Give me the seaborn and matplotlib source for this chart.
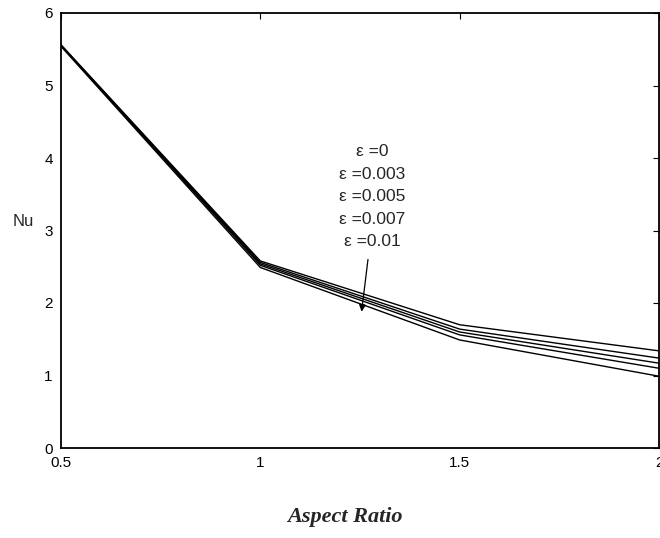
import matplotlib
matplotlib.use("Agg")
import matplotlib.pyplot as plt
import seaborn as sns
import pandas as pd

aspect_ratio = [0.5, 1.0, 1.5, 2.0]
eps_labels = ["0", "0.003", "0.005", "0.007", "0.01"]
nu_eps0 = [5.56, 2.58, 1.70, 1.34]
nu_eps003 = [5.56, 2.56, 1.64, 1.24]
nu_eps005 = [5.55, 2.54, 1.60, 1.17]
nu_eps007 = [5.55, 2.52, 1.56, 1.10]
nu_eps01 = [5.54, 2.49, 1.49, 0.99]
x_ticks = [0.5, 1, 1.5, 2]
x_ticklabels = ["0.5", "1", "1.5", "2"]
y_ticks = [0, 1, 2, 3, 4, 5, 6]

series = [nu_eps0, nu_eps003, nu_eps005, nu_eps007, nu_eps01]
rows = []
for lab, vals in zip(eps_labels, series):
    for x, v in zip(aspect_ratio, vals):
        rows.append({"AR": x, "Nu": v, "eps": lab})
df = pd.DataFrame(rows)

sns.set_theme(style="white")
plt.rcParams['font.family'] = ['Liberation Sans', 'DejaVu Sans']

fig = plt.figure(figsize=(6.6, 5.38), dpi=100)
ax = fig.add_axes([61/660, 1-448/538, 598/660, 435/538])

sns.lineplot(data=df, x="AR", y="Nu", hue="eps", palette=["black"]*5,
             legend=False, ax=ax, linewidth=1.0)

ax.set_xlim(0.5, 2)
ax.set_ylim(0, 6)
ax.set_xticks(x_ticks)
ax.set_xticklabels(x_ticklabels)
ax.set_yticks(y_ticks)
ax.tick_params(direction="in", length=4, width=0.8, colors="black",
               labelsize=11, top=True, right=True, pad=6)
for s in ax.spines.values():
    s.set_color("black")
    s.set_linewidth(1.3)
    s.set_visible(True)

ax.set_xlabel("")
ax.set_ylabel("Nu", rotation=0, fontsize=12, ha="center", va="center")
ax.yaxis.set_label_coords((23-61)/598, (448-221)/435)
fig.text(345/660, 1-517/538, "Aspect Ratio", ha="center", va="center",
         fontsize=16, fontweight="bold", fontstyle="italic",
         family=["Liberation Serif", "DejaVu Serif"])

ann = "\n".join("ε =" + e for e in eps_labels)
ax.text(1.28, 4.19, ann, ha="center", va="top", fontsize=12.5, linespacing=1.62)
ax.annotate("", xy=(1.254, 1.88), xytext=(1.27, 2.6),
            arrowprops=dict(arrowstyle="-|>", color="black", lw=0.9,
                            mutation_scale=10, shrinkA=0, shrinkB=0))

fig.savefig("out.png", dpi=100, facecolor="white")
